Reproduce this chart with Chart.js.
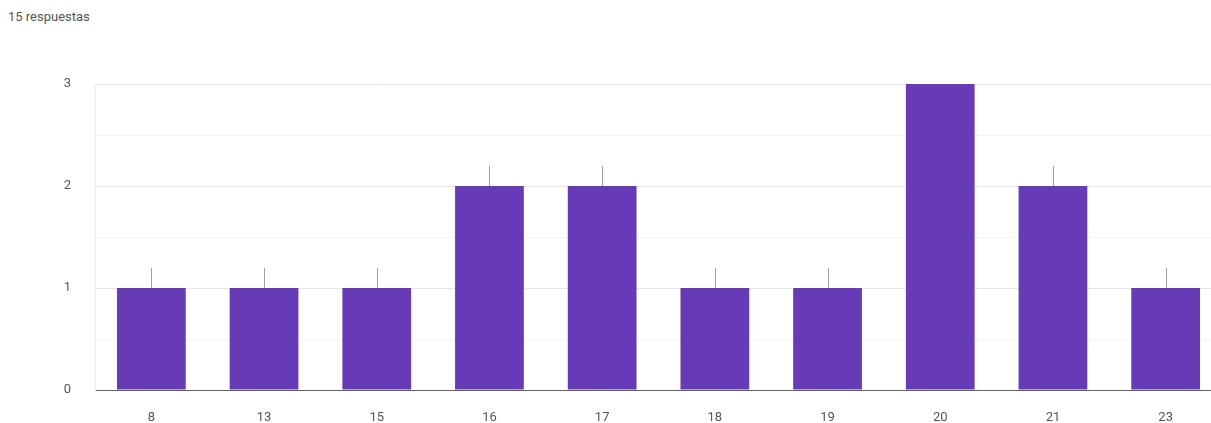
<!DOCTYPE html>
<html>
<head>
<meta charset="utf-8">
<script src="https://cdn.jsdelivr.net/npm/chart.js@4.4.0/dist/chart.umd.min.js"></script>
<style>
  html, body { margin: 0; padding: 0; background: #fff; overflow: hidden; }
  #title { position: absolute; left: 8px; top: 9px; font: 13px Roboto, Arial, sans-serif; color: #555; }
  #wrap { position: absolute; left: 0; top: 0; width: 1222px; height: 423px; }
</style>
</head>
<body>
<div id="title">15 respuestas</div>
<div id="wrap"><canvas id="myChart"></canvas></div>
<script>
const categories = ['8', '13', '15', '16', '17', '18', '19', '20', '21', '23'];
const counts = [1, 1, 1, 2, 2, 1, 1, 3, 2, 1];
const yTicks = [0, 1, 2, 3];

// palito gris sopra ogni barra
const stemPlugin = {
  id: 'stems',
  afterDatasetsDraw(chart) {
    const c = chart.ctx;
    const meta = chart.getDatasetMeta(0);
    c.save();
    c.strokeStyle = '#9e9e9e';
    c.lineWidth = 1;
    meta.data.forEach((bar, i) => {
      if (counts[i] >= 3) return;
      const x = Math.round(bar.x) + 0.5;
      c.beginPath();
      c.moveTo(x, bar.y);
      c.lineTo(x, bar.y - 20);
      c.stroke();
    });
    c.restore();
  }
};

const ctx = document.getElementById('myChart').getContext('2d');
const chart = new Chart(ctx, {
  type: 'bar',
  data: {
    labels: categories,
    datasets: [{ label: 'Respuestas', data: counts, backgroundColor: '#673AB7', barPercentage: 0.61, categoryPercentage: 1 }]
  },
  plugins: [stemPlugin],
  options: {
    responsive: true,
    maintainAspectRatio: false,
    animation: false,
    layout: { padding: { top: 84, left: 0, right: 0, bottom: 0 } },
    plugins: { legend: { display: false }, tooltip: { enabled: false } },
    scales: {
      x: {
        grid: { display: false },
        border: { color: '#616161', width: 1 },
        ticks: { color: '#555', font: { family: 'Roboto', size: 13 }, padding: 12 },
        afterFit(scale) { scale.height = 33; }
      },
      y: {
        min: 0,
        max: 3,
        border: { color: '#eeeeee' },
        grid: {
          drawTicks: false,
          color: c => Number.isInteger(c.tick.value) ? '#e6e6e6' : '#f4f4f4'
        },
        ticks: {
          stepSize: 0.5,
          padding: 24,
          color: '#555',
          font: { family: 'Roboto', size: 13 },
          callback: v => yTicks.includes(v) ? v : ''
        },
        afterFit(scale) { scale.width = 95; }
      }
    }
  }
});
</script>
</body>
</html>
